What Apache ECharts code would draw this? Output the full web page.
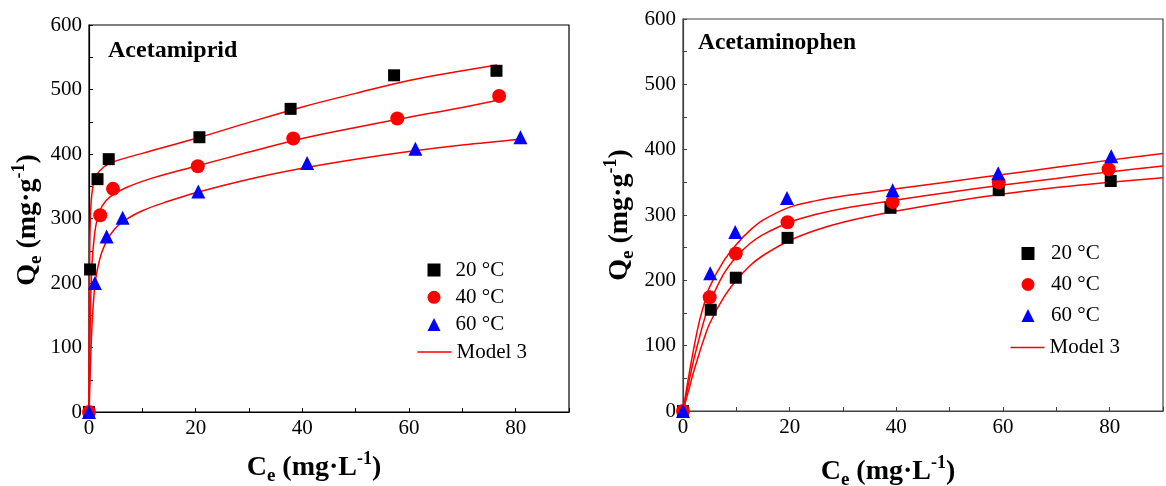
<!DOCTYPE html>
<html>
<head>
<meta charset="utf-8">
<script src="https://cdn.jsdelivr.net/npm/echarts@6/dist/echarts.min.js"></script>
<style>
  html, body { margin: 0; padding: 0; background: #fff; }
  #chart { width: 1166px; height: 486px; }
</style>
</head>
<body>
<div id="chart"></div>
<script>
// ---- Acetamiprid: measured uptake [Ce, Qe] ----
const amiT20 = [[0, 0], [0.2, 221], [1.6, 361], [3.7, 392], [20.7, 426], [37.8, 470], [57.2, 522], [76.4, 529]];
const amiT40 = [[0, 0], [2.1, 305], [4.5, 346], [20.4, 381], [38.3, 424], [57.8, 455], [76.9, 490]];
const amiT60 = [[0, 0], [1.1, 200], [3.3, 272], [6.3, 301], [20.5, 342], [40.9, 386], [61.2, 408], [80.9, 426]];
// Model 3 fitted curves, Acetamiprid
const amiFit20 = [[0, 0], [0.05, 150], [0.1, 230], [0.2, 285], [0.4, 325], [0.7, 348], [1, 360], [2, 374], [4, 386], [10, 401], [20, 424], [30, 449], [40, 473], [50, 494], [60, 514], [70, 529], [76.5, 538]];
const amiFit40 = [[0, 0], [0.2, 120], [0.5, 220], [1, 272], [1.5, 297], [2.5, 320], [4, 334], [7, 348], [12, 363], [20, 381], [30, 403], [40, 424], [50, 441], [60, 457], [70, 472], [77, 484]];
const amiFit60 = [[0, 0], [0.3, 80], [0.6, 140], [1, 187], [1.5, 218], [2.5, 250], [4, 275], [6, 293], [10, 312], [15, 327], [20, 340], [30, 361], [40, 378], [50, 392], [60, 404], [70, 414], [81, 423]];

// ---- Acetaminophen: measured uptake [Ce, Qe] ----
const aphT20 = [[0, 0], [5.2, 155], [9.9, 204], [19.6, 265], [38.9, 311], [59.2, 338], [80.2, 352]];
const aphT40 = [[0, 0], [5.0, 174], [9.9, 241], [19.6, 289], [39.3, 320], [59.2, 350], [79.8, 370]];
const aphT60 = [[0, 0], [5.1, 211], [9.8, 274], [19.5, 326], [39.3, 338], [59.1, 364], [80.3, 390]];
// Model 3 fitted curves, Acetaminophen
const aphFit20 = [[0, 0], [1, 30], [2, 60], [3, 87], [4, 112], [5, 134], [7.5, 172], [10, 200], [12.5, 222], [15, 238], [20, 261], [25, 277], [30, 289], [40, 306], [50, 320], [60, 332], [70, 342], [80, 350], [90, 357]];
const aphFit40 = [[0, 0], [1, 40], [2, 78], [3, 110], [4, 140], [5, 165], [7.5, 208], [10, 236], [12.5, 256], [15, 270], [20, 289], [25, 301], [30, 310], [40, 323], [50, 335], [60, 346], [70, 356], [80, 366], [90, 375]];
const aphFit60 = [[0, 0], [1, 50], [2, 95], [3, 135], [4, 165], [5, 190], [7.5, 228], [10, 255], [12.5, 276], [15, 292], [20, 312], [25, 322], [30, 329], [40, 340], [50, 351], [60, 362], [70, 373], [80, 384], [90, 394]];

const panelTitles = ['Acetamiprid', 'Acetaminophen'];
const tempNames = ['20 °C', '40 °C', '60 °C'];
const fitName = 'Model 3';
const xMajorLabels = [0, 20, 40, 60, 80];
const yMajorLabels = [0, 100, 200, 300, 400, 500, 600];

const FONT = '"Liberation Serif", "Times New Roman", serif';
const markerStyles = [
  { symbol: 'rect', symbolSize: 12, color: '#000000' },
  { symbol: 'circle', symbolSize: 14, color: '#ff0000' },
  { symbol: 'triangle', symbolSize: 14, color: '#0000ff' }
];

function xAxisFor(gridIndex, lineColor) {
  return {
    type: 'value', gridIndex, min: 0, max: 90, interval: 10,
    axisLine: { onZero: false, lineStyle: { color: lineColor, width: 1.2 } },
    axisTick: { inside: true, length: 4, lineStyle: { color: lineColor } },
    splitLine: { show: false },
    axisLabel: {
      fontFamily: FONT, fontSize: 21, color: '#000', margin: 6,
      formatter: v => (xMajorLabels.indexOf(v) >= 0 ? String(v) : '')
    }
  };
}
function yAxisFor(gridIndex, lineColor) {
  return {
    type: 'value', gridIndex, min: 0, max: 600, interval: 50,
    axisLine: { show: true, onZero: false, lineStyle: { color: lineColor, width: 1.2 } },
    axisTick: { show: true, inside: true, length: 4, lineStyle: { color: lineColor } },
    splitLine: { show: false },
    axisLabel: {
      fontFamily: FONT, fontSize: 21, color: '#000', margin: 7,
      formatter: v => (yMajorLabels.indexOf(v) >= 0 ? String(v) : '')
    }
  };
}

function scatter(name, data, idx, k) {
  const m = markerStyles[k];
  return {
    type: 'scatter', name, data, xAxisIndex: idx, yAxisIndex: idx,
    symbol: m.symbol, symbolSize: m.symbolSize, clip: true,
    itemStyle: { color: m.color, opacity: 1 }, z: 3
  };
}
function fit(data, idx) {
  return {
    type: 'line', name: fitName, data, xAxisIndex: idx, yAxisIndex: idx,
    smooth: 0.35, symbol: 'none', clip: true,
    lineStyle: { color: '#ff0000', width: 1.5 }, itemStyle: { color: '#ff0000' }, z: 2
  };
}

// marker legend (square / circle / triangle) for one panel
function markerLegend(left, top, gap, textPad) {
  return {
    orient: 'vertical', left, top, padding: 0, itemGap: gap, itemWidth: 13, itemHeight: 13,
    data: tempNames, selectedMode: false,
    textStyle: { fontFamily: FONT, fontSize: 21, lineHeight: 21, color: '#000', padding: [0, 0, 0, textPad] }
  };
}
// line legend for the fitted model
function lineLegend(left, top) {
  return {
    orient: 'vertical', left, top, padding: 0, itemWidth: 34, itemHeight: 1.6,
    data: [{ name: fitName, icon: 'rect' }], selectedMode: false,
    textStyle: { fontFamily: FONT, fontSize: 21, lineHeight: 21, color: '#000' }
  };
}

// rich text pieces for axis titles with sub/superscripts
const titleRich = {
  b: { fontFamily: FONT, fontWeight: 'bold', fontSize: 28, color: '#000', verticalAlign: 'middle', lineHeight: 36 },
  sub: { fontFamily: FONT, fontWeight: 'bold', fontSize: 19, color: '#000', verticalAlign: 'bottom', lineHeight: 19 },
  sup: { fontFamily: FONT, fontWeight: 'bold', fontSize: 18, color: '#000', verticalAlign: 'top', lineHeight: 18 }
};
const xTitle = '{b|C}{sub|e}{b| (mg·L}{sup|-1}{b|)}';
const yTitle = '{b|Q}{sub|e}{b| (mg·g}{sup|-1}{b|)}';

const chart = echarts.init(document.getElementById('chart'), null, { renderer: 'canvas' });
chart.setOption({
  animation: false,
  backgroundColor: '#ffffff',
  grid: [
    { left: 89, top: 25, width: 480, height: 387, show: true, borderColor: '#000', borderWidth: 1.2, backgroundColor: 'transparent' },
    { left: 683, top: 19, width: 493, height: 392, show: true, borderColor: '#404040', borderWidth: 1.2, backgroundColor: 'transparent' }
  ],
  xAxis: [xAxisFor(0, '#000'), xAxisFor(1, '#404040')],
  yAxis: [yAxisFor(0, '#000'), yAxisFor(1, '#404040')],
  legend: [
    markerLegend(427.5, 259.5, 6.3, 10), lineLegend(417.5, 341.5),
    markerLegend(1021.5, 243, 10, 11.5), lineLegend(1010.5, 337)
  ],
  series: [
    fit(amiFit20, 0), fit(amiFit40, 0), fit(amiFit60, 0),
    scatter(tempNames[0], amiT20, 0, 0), scatter(tempNames[1], amiT40, 0, 1), scatter(tempNames[2], amiT60, 0, 2),
    fit(aphFit20, 1), fit(aphFit40, 1), fit(aphFit60, 1),
    scatter(tempNames[0], aphT20, 1, 0), scatter(tempNames[1], aphT40, 1, 1), scatter(tempNames[2], aphT60, 1, 2)
  ],
  graphic: [
    { type: 'text', left: 108, top: 39, style: { text: panelTitles[0], font: 'bold 24px ' + FONT, fill: '#000' } },
    { type: 'text', left: 698, top: 31, style: { text: panelTitles[1], font: 'bold 23.5px ' + FONT, fill: '#000' } },
    { type: 'text', x: 314, y: 468, style: { text: xTitle, rich: titleRich, align: 'center', verticalAlign: 'middle' } },
    { type: 'text', x: 888, y: 472, style: { text: xTitle, rich: titleRich, align: 'center', verticalAlign: 'middle' } },
    { type: 'text', x: 28, y: 220, rotation: Math.PI / 2, style: { text: yTitle, rich: titleRich, align: 'center', verticalAlign: 'middle' } },
    { type: 'text', x: 620, y: 215, rotation: Math.PI / 2, style: { text: yTitle, rich: titleRich, align: 'center', verticalAlign: 'middle' } }
  ]
});
</script>
</body>
</html>
